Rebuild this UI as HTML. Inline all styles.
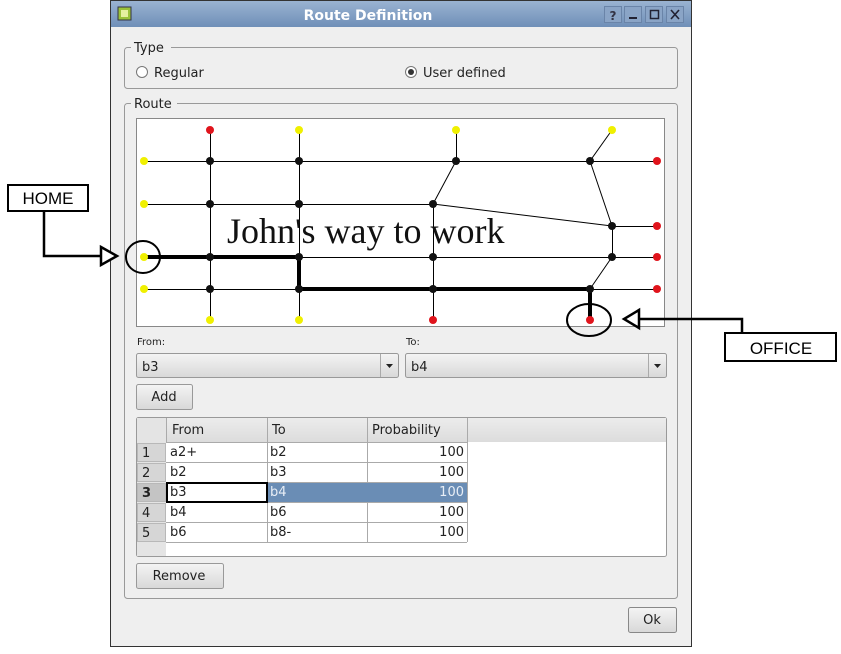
<!DOCTYPE html>
<html><head><meta charset="utf-8"><style>
body{margin:0;width:841px;height:654px;background:#fff;overflow:hidden;font-family:"DejaVu Sans","Liberation Sans",sans-serif}
svg{position:absolute;left:0;top:0}
</style></head><body>
<svg width="841" height="654" viewBox="0 0 841 654" xmlns="http://www.w3.org/2000/svg" font-family="DejaVu Sans, Liberation Sans, sans-serif">
<defs>
<linearGradient id="tb" x1="0" y1="0" x2="0" y2="1"><stop offset="0" stop-color="#9ab3d2"/><stop offset="1" stop-color="#6f8fb8"/></linearGradient>
<linearGradient id="bt" x1="0" y1="0" x2="0" y2="1"><stop offset="0" stop-color="#f4f4f4"/><stop offset="1" stop-color="#d8d8d8"/></linearGradient>
<linearGradient id="hd" x1="0" y1="0" x2="0" y2="1"><stop offset="0" stop-color="#ececec"/><stop offset="1" stop-color="#dcdcdc"/></linearGradient>
</defs>
<rect x="110.5" y="0.5" width="581" height="646" fill="#efefef" stroke="#333"/>
<rect x="111" y="1" width="580" height="26" fill="url(#tb)"/>
<rect x="118" y="7" width="13" height="13" fill="#9bc23a" stroke="#334"/>
<rect x="121" y="10" width="7" height="7" fill="#e6f0a0"/>
<text x="368" y="20" font-size="14" font-weight="bold" fill="#fff" text-anchor="middle">Route Definition</text>
<g fill="#8aa4c6" stroke="#6a84a8"><rect x="604.5" y="6.5" width="17" height="16"/><rect x="624.5" y="6.5" width="17" height="16"/><rect x="645.5" y="6.5" width="17" height="16"/><rect x="666.5" y="6.5" width="17" height="16"/></g>
<text x="613" y="20" font-size="12" font-weight="bold" fill="#334" text-anchor="middle">?</text>
<rect x="629" y="17" width="8" height="2" fill="#223"/>
<rect x="650.5" y="10.5" width="8" height="8" fill="none" stroke="#223" stroke-width="1.5"/>
<path d="M671 10l8 9M679 10l-8 9" stroke="#223" stroke-width="1.6"/>

<rect x="124.5" y="47.5" width="553" height="41" rx="3" fill="none" stroke="#999"/>
<rect x="131" y="40" width="40" height="14" fill="#efefef"/>
<text x="134" y="52" font-size="13" fill="#222">Type</text>
<circle cx="142" cy="72" r="5.5" fill="#fff" stroke="#777"/>
<text x="154" y="77" font-size="13" fill="#222">Regular</text>
<circle cx="411" cy="72" r="5.5" fill="#fff" stroke="#777"/>
<circle cx="411" cy="72" r="3" fill="#333"/>
<text x="423" y="77" font-size="13" fill="#222">User defined</text>

<rect x="124.5" y="103.5" width="553" height="495" rx="3" fill="none" stroke="#999"/>
<rect x="131" y="96" width="46" height="14" fill="#efefef"/>
<text x="134" y="108" font-size="13" fill="#222">Route</text>

<rect x="136.5" y="118.5" width="528" height="208" fill="#fff" stroke="#888"/>
<g stroke="#000" stroke-width="1" fill="none" shape-rendering="crispEdges">
<path d="M144 161.5H657M144 204.5H433M433 257.5H657M144 257.5H657M144 289.5H657M612 226.5H657"/>
<path d="M210.5 130V320M299.5 130V320M456.5 130V161M433.5 204V320M612.5 226V257"/>
</g>
<g stroke="#000" stroke-width="1" fill="none">
<path d="M433 204L612 226M456 161L433 204M612 130L590 161L612 226M612 257L590 289"/>
</g>
<path d="M144 257H299V289H590V320" stroke="#000" stroke-width="4" fill="none"/>
<text x="227" y="243" font-family="Liberation Serif, serif" font-size="36" fill="#111">John's way to work</text>
<g fill="#111">
<circle cx="210" cy="161" r="4"/><circle cx="299" cy="161" r="4"/><circle cx="456" cy="161" r="4"/><circle cx="590" cy="161" r="4"/>
<circle cx="210" cy="204" r="4"/><circle cx="299" cy="204" r="4"/><circle cx="433" cy="204" r="4"/><circle cx="612" cy="226" r="4"/>
<circle cx="210" cy="257" r="4"/><circle cx="299" cy="257" r="4"/><circle cx="433" cy="257" r="4"/><circle cx="612" cy="257" r="4"/>
<circle cx="210" cy="289" r="4"/><circle cx="299" cy="289" r="4"/><circle cx="433" cy="289" r="4"/><circle cx="590" cy="289" r="4"/>
</g>
<g fill="#f0f000">
<circle cx="299" cy="130" r="4"/><circle cx="456" cy="130" r="4"/><circle cx="612" cy="130" r="4"/>
<circle cx="144" cy="161" r="4"/><circle cx="144" cy="204" r="4"/><circle cx="144" cy="257" r="4"/><circle cx="144" cy="289" r="4"/>
<circle cx="210" cy="320" r="4"/><circle cx="299" cy="320" r="4"/>
</g>
<g fill="#e0141c">
<circle cx="210" cy="130" r="4"/><circle cx="657" cy="161" r="4"/><circle cx="657" cy="226" r="4"/><circle cx="657" cy="257" r="4"/><circle cx="657" cy="289" r="4"/>
<circle cx="433" cy="320" r="4"/><circle cx="590" cy="320" r="4"/>
</g>
<ellipse cx="143" cy="257" rx="17" ry="16" fill="none" stroke="#000" stroke-width="2"/>
<ellipse cx="589" cy="320" rx="22" ry="16" fill="none" stroke="#000" stroke-width="2"/>

<rect x="8" y="185" width="80" height="26" fill="#fff" stroke="#000" stroke-width="2"/>
<text x="48" y="204" font-family="Liberation Sans, sans-serif" font-size="17" text-anchor="middle">HOME</text>
<path d="M44 211V256H101" stroke="#000" stroke-width="2.5" fill="none"/>
<path d="M101 247L117 256L101 265Z" fill="#fff" stroke="#000" stroke-width="2.5"/>
<rect x="725" y="333" width="111" height="28" fill="#fff" stroke="#000" stroke-width="2"/>
<text x="781" y="354" font-family="Liberation Sans, sans-serif" font-size="17" text-anchor="middle">OFFICE</text>
<path d="M742 333V319H639" stroke="#000" stroke-width="2.5" fill="none"/>
<path d="M639 310L624 319L639 328Z" fill="#fff" stroke="#000" stroke-width="2.5"/>

<text x="137" y="345" font-size="10" fill="#222">From:</text>
<text x="406" y="345" font-size="10" fill="#222">To:</text>
<rect x="136.5" y="353.5" width="262" height="24" rx="2" fill="url(#bt)" stroke="#999"/>
<line x1="380.5" y1="354" x2="380.5" y2="377" stroke="#aaa"/>
<path d="M386 364h7l-3.5 4z" fill="#222"/>
<text x="142" y="371" font-size="13" fill="#222">b3</text>
<rect x="405.5" y="353.5" width="261" height="24" rx="2" fill="url(#bt)" stroke="#999"/>
<line x1="648.5" y1="354" x2="648.5" y2="377" stroke="#aaa"/>
<path d="M654 364h7l-3.5 4z" fill="#222"/>
<text x="411" y="371" font-size="13" fill="#222">b4</text>

<rect x="136.5" y="384.5" width="56" height="25" rx="2" fill="url(#bt)" stroke="#999"/>
<text x="164" y="401" font-size="13" fill="#222" text-anchor="middle">Add</text>

<rect x="136.5" y="417.5" width="530" height="139" rx="2" fill="#fff" stroke="#999"/>
<rect x="137" y="418" width="529" height="24" fill="url(#hd)"/>
<rect x="137" y="418" width="29" height="138" fill="#e4e4e4"/>
<g stroke="#aaa"><line x1="166.5" y1="418" x2="166.5" y2="442"/><line x1="267.5" y1="418" x2="267.5" y2="542"/><line x1="367.5" y1="418" x2="367.5" y2="542"/><line x1="467.5" y1="418" x2="467.5" y2="542"/><line x1="166" y1="442.5" x2="467" y2="442.5"/>
<line x1="166" y1="462.5" x2="467" y2="462.5"/><line x1="166" y1="482.5" x2="467" y2="482.5"/><line x1="166" y1="502.5" x2="467" y2="502.5"/><line x1="166" y1="522.5" x2="467" y2="522.5"/><line x1="166" y1="542.5" x2="467" y2="542.5"/></g>
<g fill="#d6d6d6" stroke="#b8b8b8"><rect x="137.5" y="443.5" width="28" height="18"/><rect x="137.5" y="463.5" width="28" height="18"/><rect x="137.5" y="483.5" width="28" height="18" fill="#c4c4c4"/><rect x="137.5" y="503.5" width="28" height="18"/><rect x="137.5" y="523.5" width="28" height="18"/></g>
<text x="172" y="434" font-size="13" fill="#222">From</text>
<text x="272" y="434" font-size="13" fill="#222">To</text>
<text x="372" y="434" font-size="13" fill="#222">Probability</text>
<rect x="268" y="483" width="199" height="19" fill="#6a8db5"/>
<rect x="167" y="483" width="100" height="19" fill="#fff" stroke="#000" stroke-width="2"/>
<g font-size="13" fill="#222">
<text x="142" y="457">1</text><text x="142" y="477">2</text><text x="142" y="497" font-weight="bold">3</text><text x="142" y="517">4</text><text x="142" y="537">5</text>
<text x="170" y="456">a2+</text><text x="270" y="456">b2</text><text x="464" y="456" text-anchor="end">100</text>
<text x="170" y="476">b2</text><text x="270" y="476">b3</text><text x="464" y="476" text-anchor="end">100</text>
<text x="170" y="496">b3</text><text x="270" y="496" fill="#e8eef6">b4</text><text x="464" y="496" text-anchor="end" fill="#e8eef6">100</text>
<text x="170" y="516">b4</text><text x="270" y="516">b6</text><text x="464" y="516" text-anchor="end">100</text>
<text x="170" y="536">b6</text><text x="270" y="536">b8-</text><text x="464" y="536" text-anchor="end">100</text>
</g>

<rect x="136.5" y="563.5" width="87" height="25" rx="2" fill="url(#bt)" stroke="#999"/>
<text x="179" y="580" font-size="13" fill="#222" text-anchor="middle">Remove</text>
<rect x="628.5" y="607.5" width="48" height="25" rx="2" fill="url(#bt)" stroke="#888"/>
<text x="652" y="624" font-size="13" fill="#222" text-anchor="middle">Ok</text>
</svg>
</body></html>
